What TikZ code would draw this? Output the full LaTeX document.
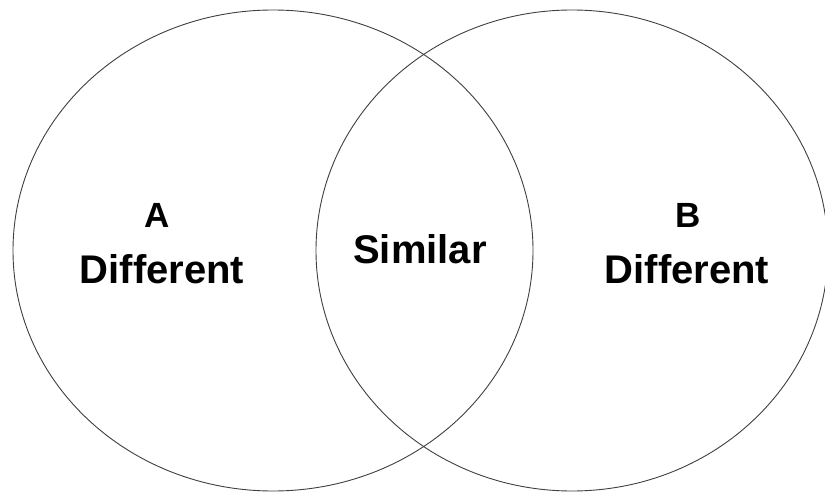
\documentclass[tikz,border=0pt]{standalone}
\usepackage{fontspec}
\setmainfont{Liberation Sans}
\usetikzlibrary{shapes.geometric}
\tikzset{
  setshape/.style={draw=black!75, line width=0.9pt, ellipse, inner sep=0pt},
  bigtext/.style={font=\bfseries\fontsize{40}{48}\selectfont, inner sep=0pt, anchor=base},
  lettertext/.style={font=\bfseries\fontsize{35}{42}\selectfont, inner sep=0pt, anchor=base}
}
\begin{document}
\begin{tikzpicture}[x=1pt,y=-1pt]
  \clip (0,0) rectangle (825,492);
  \fill[white] (0,0) rectangle (825,492);
  \node[setshape, minimum width=520pt, minimum height=481pt] (setA) at (273,250.5) {};
  \node[setshape, minimum width=512pt, minimum height=481pt] (setB) at (572,250.5) {};
  \node[lettertext] (labA) at (157,227) {A};
  \node[bigtext] (diffA) at (162,283) {Different};
  \node[bigtext] (sim) at (420,263) {Similar};
  \node[lettertext] (labB) at (688,227) {B};
  \node[bigtext] (diffB) at (687,283) {Different};
\end{tikzpicture}
\end{document}
